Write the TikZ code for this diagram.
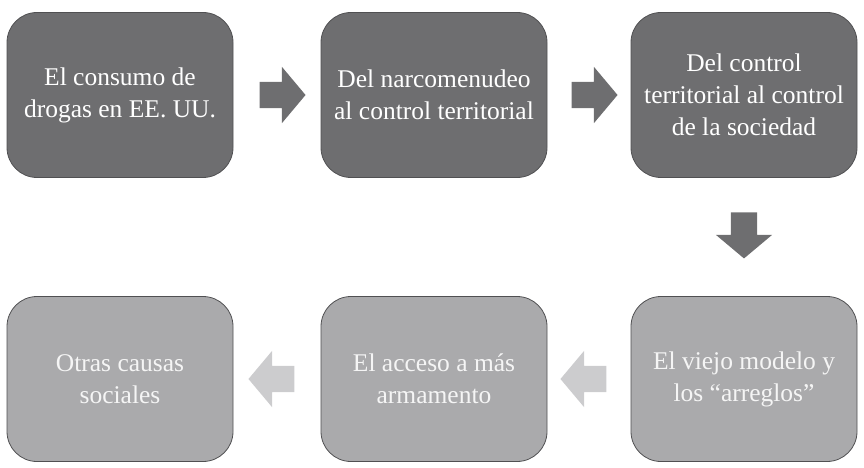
\documentclass[tikz,border=0pt]{standalone}
\usepackage{fontspec}
\setmainfont{Liberation Serif}
\usetikzlibrary{shapes.arrows}
\definecolor{darkbox}{RGB}{110,110,112}
\definecolor{lightbox}{RGB}{170,170,172}
\definecolor{lightarrow}{RGB}{204,204,206}
\definecolor{boxedge}{RGB}{80,80,82}
\tikzset{
  stage/.style = {
    draw=boxedge, line width=0.8pt, rounded corners=30pt,
    minimum width=226pt, minimum height=165pt,
    text=white, align=center, font=\fontsize{25.5}{32}\selectfont
  },
  early/.style = {stage, fill=darkbox},
  late/.style = {stage, fill=lightbox, text=white!96!black},
  blockarrow/.style = {
    single arrow, draw=none, inner sep=13pt,
    minimum height=46pt, single arrow head extend=15pt,
    single arrow tip angle=100
  }
}

\begin{document}
\begin{tikzpicture}[x=1pt,y=-1pt]
  \useasboundingbox (0,0) rectangle (864,468);
  % 
  \node[early] (consumo) at (120,95) {El consumo de\\drogas en EE.\ UU.};
  \node[early] (narco) at (434,95) {Del narcomenudeo\\al control territorial};
  \node[early] (sociedad) at (744,95) {Del control\\territorial al control\\de la sociedad};
  % 
  \node[late] (viejo) at (744,379) {El viejo modelo y\\los “arreglos”};
  \node[late] (armas) at (434,379) {El acceso a más\\armamento};
  \node[late] (otras) at (120,379) {Otras causas\\sociales};
  % 
  \path (consumo) -- node[blockarrow,fill=darkbox] (a1) {} (narco);
  \path (narco) -- node[blockarrow,fill=darkbox] (a2) {} (sociedad);
  \path (sociedad) -- node[blockarrow,fill=darkbox,shape border rotate=270,pos=0.44] (a3) {} (viejo);
  \path (viejo) -- node[blockarrow,fill=lightarrow,shape border rotate=180] (a4) {} (armas);
  \path (armas) -- node[blockarrow,fill=lightarrow,shape border rotate=180] (a5) {} (otras);
\end{tikzpicture}
\end{document}
